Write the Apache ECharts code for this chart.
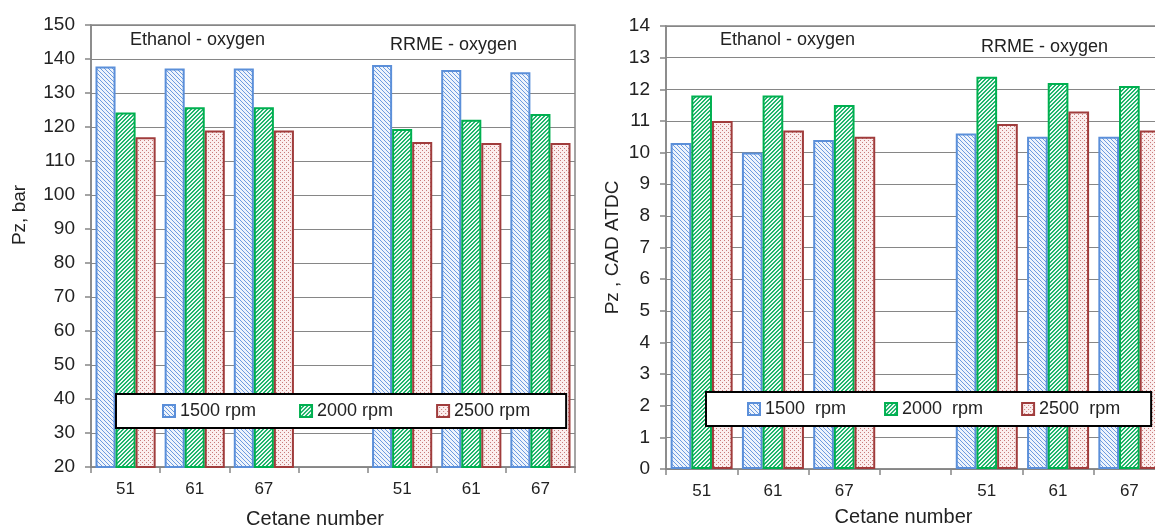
<!DOCTYPE html>
<html>
<head>
<meta charset="utf-8">
<script src="https://cdn.jsdelivr.net/npm/echarts@6/dist/echarts.min.js"></script>
<style>
  html, body { margin: 0; padding: 0; background: #fff; }
  #main { width: 1155px; height: 530px; }
</style>
</head>
<body>
<div id="main"></div>
<script>
// categories (4th slot is the gap between the two fuel groups)
var cetane = ['51', '61', '67', '', '51', '61', '67'];

// peak pressure, bar
var pz1500 = [137.8, 137.2, 137.2, null, 138.2, 136.8, 136.1];
var pz2000 = [124.3, 125.8, 125.8, null, 119.4, 122.1, 123.8];
var pz2500 = [117.0, 119.0, 119.0, null, 115.6, 115.3, 115.3];

// position of peak pressure, CAD ATDC
var cad1500 = [10.3, 10.0, 10.4, null, 10.6, 10.5, 10.5];
var cad2000 = [11.8, 11.8, 11.5, null, 12.4, 12.2, 12.1];
var cad2500 = [11.0, 10.7, 10.5, null, 10.9, 11.3, 10.7];

var leftNames = ['1500 rpm', '2000 rpm', '2500 rpm'];
var rightNames = ['1500  rpm', '2000  rpm', '2500  rpm'];

var FONT = 'Liberation Sans, Arial, sans-serif';
var GRAY = '#868686';

function pattern(kind, color, bg) {
    var c = document.createElement('canvas');
    c.width = 4; c.height = 4;
    var ctx = c.getContext('2d');
    ctx.fillStyle = bg;
    ctx.fillRect(0, 0, 4, 4);
    ctx.fillStyle = color;
    for (var i = 0; i < 4; i++) {
        if (kind === 'back') {
            ctx.fillRect(i, i, 1, 1);
        } else if (kind === 'fwd') {
            ctx.fillRect(3 - i, i, 1, 1);
            ctx.fillRect((4 - i) % 4, i, 1, 1);
        }
    }
    if (kind === 'dots') {
        ctx.fillRect(0, 0, 1, 1);
        ctx.fillRect(2, 2, 1, 1);
    }
    return { image: c, repeat: 'repeat' };
}

var styles = [
    { color: pattern('back', '#6d9be0', '#eef4fc'), borderColor: '#5b8fd9', borderWidth: 2 },
    { color: pattern('fwd', '#1fb56c', '#eefaf3'), borderColor: '#00b050', borderWidth: 2 },
    { color: pattern('dots', '#c97a7a', '#fbeeee'), borderColor: '#a03c3c', borderWidth: 2 }
];

function bars(names, datas, idx) {
    return datas.map(function (d, i) {
        return {
            name: names[i],
            type: 'bar',
            xAxisIndex: idx,
            yAxisIndex: idx,
            barWidth: '29%',
            barGap: '0%',
            itemStyle: styles[i],
            emphasis: { disabled: true },
            data: d
        };
    });
}

function xAx(idx, gap, pad, margin) {
    return {
        type: 'category',
        gridIndex: idx,
        data: cetane,
        name: 'Cetane number',
        nameLocation: 'middle',
        nameGap: gap,
        nameTextStyle: { fontFamily: FONT, fontSize: 20, color: '#222', padding: pad },
        axisLine: { lineStyle: { color: GRAY, width: 1.5 } },
        axisTick: { show: true, length: 6, lineStyle: { color: GRAY, width: 1.5 } },
        axisLabel: { fontFamily: FONT, fontSize: 17, color: '#222', margin: margin }
    };
}

function yAx(idx, min, max, name, gap, pad) {
    return {
        type: 'value',
        gridIndex: idx,
        min: min,
        max: max,
        interval: (max - min) > 20 ? 10 : 1,
        name: name,
        nameLocation: 'middle',
        nameGap: gap,
        nameTextStyle: { fontFamily: FONT, fontSize: 19, color: '#222', padding: pad },
        axisLine: { show: true, lineStyle: { color: GRAY, width: 1.5 } },
        axisTick: { show: true, length: 6, lineStyle: { color: GRAY, width: 1.5 } },
        axisLabel: { fontFamily: FONT, fontSize: 19, color: '#222', margin: 16 },
        splitLine: { lineStyle: { color: GRAY, width: 1 } }
    };
}

function legend(names, left, top, pad, gap) {
    return {
        data: names,
        left: left,
        top: top,
        width: 600,
        orient: 'horizontal',
        padding: pad,
        itemGap: gap,
        itemWidth: 12,
        itemHeight: 12,
        icon: 'rect',
        backgroundColor: '#fff',
        borderColor: '#000',
        borderWidth: 2,
        selectedMode: false,
        textStyle: { fontFamily: FONT, fontSize: 18, color: '#222' }
    };
}

function label(text, x, y) {
    return {
        type: 'text',
        left: x,
        top: y,
        style: { text: text, font: '18px ' + FONT, fill: '#222' }
    };
}

var chart = echarts.init(document.getElementById('main'));
chart.setOption({
    animation: false,
    grid: [
        { left: 91, top: 25, width: 484, bottom: 63, outerBoundsMode: 'none', show: true, borderColor: GRAY, borderWidth: 1.5 },
        { left: 666, top: 26, width: 499, bottom: 61, outerBoundsMode: 'none', show: true, borderColor: GRAY, borderWidth: 1.5 }
    ],
    xAxis: [xAx(0, 42, [0, 36, 0, 0], 14), xAx(1, 38, [0, 24, 0, 0], 14)],
    yAxis: [
        yAx(0, 20, 150, 'Pz, bar', 62, [0, 0, 0, 62]),
        yAx(1, 0, 14, 'Pz , CAD ATDC', 44, [0, 0, 0, 0])
    ],
    legend: [
        legend(leftNames, 116, 394, [8, 36, 8, 46], 43),
        legend(rightNames, 706, 392, [8, 31, 8, 41], 38)
    ],
    graphic: [
        label('Ethanol - oxygen', 130, 31),
        label('RRME - oxygen', 390, 36),
        label('Ethanol - oxygen', 720, 31),
        label('RRME - oxygen', 981, 38)
    ],
    series: bars(leftNames, [pz1500, pz2000, pz2500], 0)
        .concat(bars(rightNames, [cad1500, cad2000, cad2500], 1))
});
</script>
</body>
</html>
